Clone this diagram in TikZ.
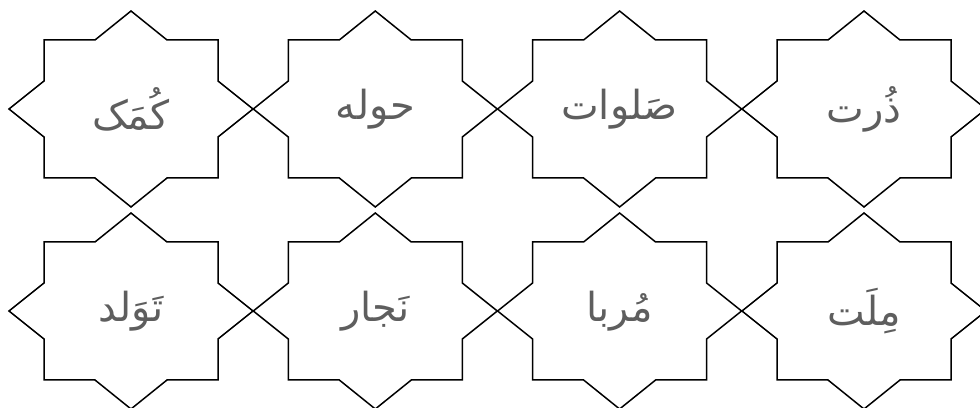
\documentclass[tikz,border=0pt]{standalone}
\usepackage{fontspec}
\usepackage{xcolor}
\usepackage{tikz}
\usetikzlibrary{positioning, calc}
\TeXXeTstate=1
\newfontfamily\arabicfont[Script=Arabic]{DejaVu Sans}
\definecolor{wordgray}{HTML}{5E5E5E}
\tikzstyle{word} = [inner sep=0pt, text=wordgray, font=\arabicfont\fontsize{40}{48}\selectfont]
\tikzstyle{starline} = [draw=black, line width=1.5pt, line join=miter]
% eight-pointed star round a named node
\newcommand{\drawstar}[1]{\draw[starline] (#1.center) ++(0,98) -- ++(36,-29) -- ++(51,0) -- ++(0,-41) -- ++(35,-28) -- ++(-35,-28) -- ++(0,-41) -- ++(-51,0) -- ++(-36,-29) -- ++(-36,29) -- ++(-51,0) -- ++(0,41) -- ++(-35,28) -- ++(35,28) -- ++(0,41) -- ++(51,0) -- cycle;}
\begin{document}
\begin{tikzpicture}[x=1pt, y=1pt]
\useasboundingbox (0,0) rectangle (980,407);

% top row
\node (komak) [word] at (131,298) {\beginR کُمَک\endR};
\node (hole) [word] at (375.3,298) {\beginR حوله\endR};
\node (salavat) [word] at (619.6,298) {\beginR صَلوات\endR};
\node (zorat) [word] at (864,298) {\beginR ذُرت\endR};

% bottom row
\node (tavalod) [word] at (131,96) {\beginR تَوَلد\endR};
\node (najar) [word] at (375.3,96) {\beginR نَجار\endR};
\node (moraba) [word] at (619.6,96) {\beginR مُربا\endR};
\node (mellat) [word] at (864,96) {\beginR مِلَت\endR};

\drawstar{komak}
\drawstar{hole}
\drawstar{salavat}
\drawstar{zorat}
\drawstar{tavalod}
\drawstar{najar}
\drawstar{moraba}
\drawstar{mellat}
\end{tikzpicture}
\end{document}
